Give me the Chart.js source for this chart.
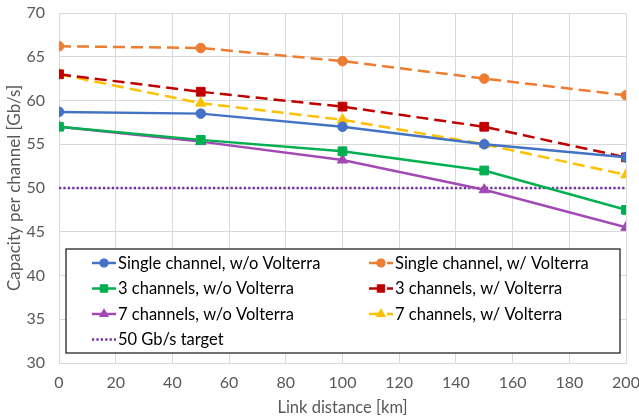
<!DOCTYPE html>
<html>
<head>
<meta charset="utf-8">
<script src="https://cdn.jsdelivr.net/npm/chart.js@4"></script>
<style>
  html, body { margin: 0; padding: 0; background: #fff; }
  #wrap { width: 639px; height: 418px; }
</style>
</head>
<body>
<div id="wrap"><canvas id="capacity-chart"></canvas></div>
<script>
const distances = [0, 50, 100, 150, 200];
const singleNoVolterra = [58.7, 58.5, 57.0, 55.0, 53.5];
const singleVolterra = [66.2, 66.0, 64.5, 62.5, 60.6];
const threeNoVolterra = [57.0, 55.5, 54.2, 52.0, 47.5];
const threeVolterra = [63.0, 61.0, 59.3, 57.0, 53.5];
const sevenNoVolterra = [57.0, 55.3, 53.2, 49.8, 45.5];
const sevenVolterra = [63.0, 59.7, 57.8, 55.0, 51.5];
const target = [50, 50, 50, 50, 50];

const fontName = 'Lato';
const grey = '#595959';

function pts(values) {
    return distances.map((d, i) => ({ x: d, y: values[i] }));
}

function series(label, values, color, style, radius, dash) {
    return {
        label: label,
        data: pts(values),
        borderColor: color,
        backgroundColor: color,
        borderWidth: 2.5,
        borderDash: dash,
        pointStyle: style,
        pointRadius: radius,
        pointHoverRadius: radius,
        pointBorderWidth: 1,
        tension: 0
    };
}

let capacityData = {
    datasets: [
        series('Single channel, w/o Volterra', singleNoVolterra, '#4472C4', 'circle', 4.8, []),
        series('Single channel, w/ Volterra', singleVolterra, '#ED7D31', 'circle', 4.8, [12, 6]),
        series('3 channels, w/o Volterra', threeNoVolterra, '#00B050', 'rect', 6.2, []),
        series('3 channels, w/ Volterra', threeVolterra, '#C00000', 'rect', 6.2, [12, 6]),
        series('7 channels, w/o Volterra', sevenNoVolterra, '#A349B5', 'triangle', 6, []),
        series('7 channels, w/ Volterra', sevenVolterra, '#FFC000', 'triangle', 6, [12, 6]),
        series('50 Gb/s target', target, '#7030A0', 'circle', 0, [2.2, 2.2])
    ]
};

// legend box drawn inside the plot, two columns like the original
const boxLegend = {
    id: 'boxLegend',
    afterDraw(chart) {
        const ctx = chart.ctx;
        const left = 66, top = 249, right = 620, bottom = 353;
        const rows = [263, 288.5, 314, 339.5];
        const cols = [92, 369];
        ctx.save();
        ctx.fillStyle = '#fff';
        ctx.fillRect(left, top, right - left, bottom - top);
        ctx.strokeStyle = '#262626';
        ctx.lineWidth = 1.3;
        ctx.strokeRect(left, top, right - left, bottom - top);
        chart.data.datasets.forEach((ds, i) => {
            const cx = cols[i % 2];
            const cy = rows[Math.floor(i / 2)];
            ctx.strokeStyle = ds.borderColor;
            ctx.lineWidth = 2.5;
            ctx.setLineDash(ds.borderDash || []);
            ctx.beginPath();
            ctx.moveTo(cx, cy);
            ctx.lineTo(cx + 24, cy);
            ctx.stroke();
            ctx.setLineDash([]);
            if (ds.pointRadius > 0) {
                ctx.fillStyle = ds.backgroundColor;
                ctx.strokeStyle = ds.borderColor;
                ctx.lineWidth = 1;
                Chart.helpers.drawPoint(ctx, {
                    pointStyle: ds.pointStyle,
                    radius: ds.pointRadius * 0.85,
                    borderWidth: 1,
                    rotation: 0
                }, cx + 12, cy);
            }
            ctx.fillStyle = '#000';
            ctx.font = '16.5px ' + fontName;
            ctx.textBaseline = 'middle';
            ctx.textAlign = 'left';
            ctx.fillText(ds.label, cx + 26, cy + 0.5);
        });
        ctx.restore();
    }
};

let capacityOptions = {
    responsive: true,
    maintainAspectRatio: false,
    animation: false,
    layout: { padding: { top: 13, right: 13, left: 4, bottom: 0 } },
    scales: {
        x: {
            type: 'linear',
            min: 0,
            max: 200,
            ticks: { stepSize: 20, color: grey, font: { family: fontName, size: 16 }, padding: 10 },
            grid: { color: '#D9D9D9', drawTicks: false },
            border: { color: '#D9D9D9' },
            title: { display: true, text: 'Link distance [km]', color: grey, font: { family: fontName, size: 16.5 }, padding: { top: 0, bottom: 0 } },
            afterFit(scale) {
                scale.height = 55;
                scale.paddingLeft = 0;
                scale.paddingRight = 0;
            }
        },
        y: {
            min: 30,
            max: 70,
            ticks: { stepSize: 5, color: grey, font: { family: fontName, size: 16 }, padding: 14 },
            grid: { color: '#D9D9D9', drawTicks: false },
            border: { display: false },
            title: { display: true, text: 'Capacity per channel [Gb/s]', color: grey, font: { family: fontName, size: 17 }, padding: { top: 0, bottom: 2 } },
            afterFit(scale) {
                scale.width = 55;
                scale.paddingTop = 0;
                scale.paddingBottom = 0;
            }
        }
    },
    plugins: {
        legend: { display: false },
        tooltip: { enabled: false }
    }
};

let capacityChart = new Chart(document.getElementById('capacity-chart'), {
    type: 'line',
    data: capacityData,
    options: capacityOptions,
    plugins: [boxLegend]
});
</script>
</body>
</html>
